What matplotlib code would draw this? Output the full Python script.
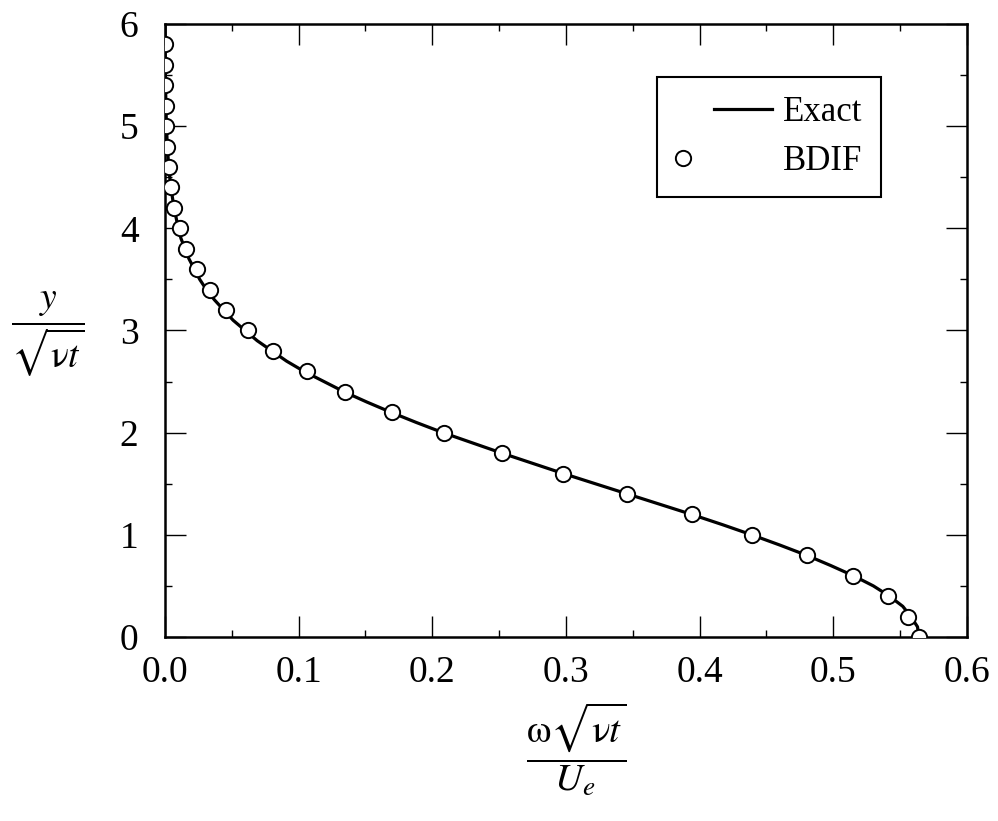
import numpy as np
import matplotlib
matplotlib.use("Agg")
import matplotlib.pyplot as plt
from matplotlib.legend_handler import HandlerLine2D

plt.rcParams['font.family'] = ['Liberation Serif', 'DejaVu Serif']
plt.rcParams['mathtext.fontset'] = 'stix'

# --- data ---
# exact solution curve (eta = y/sqrt(nu t), omega*sqrt(nu t)/U_e)
exact_eta = [0.0, 0.1, 0.2, 0.3, 0.4, 0.5, 0.6, 0.7, 0.8, 0.9, 1.0, 1.1, 1.2, 1.3,
             1.4, 1.5, 1.6, 1.7, 1.8, 1.9, 2.0, 2.1, 2.2, 2.3, 2.4, 2.5, 2.6, 2.7,
             2.8, 2.9, 3.0, 3.1, 3.2, 3.3, 3.4, 3.5, 3.6, 3.7, 3.8, 3.9, 4.0, 4.2,
             4.4, 4.6, 4.8, 5.0, 5.4, 5.8, 6.0]
exact_w = [0.564, 0.563, 0.558, 0.552, 0.542, 0.530, 0.515, 0.498, 0.480, 0.460,
           0.439, 0.417, 0.394, 0.370, 0.346, 0.322, 0.298, 0.275, 0.252, 0.230,
           0.208, 0.188, 0.169, 0.151, 0.134, 0.119, 0.104, 0.091, 0.080, 0.069,
           0.060, 0.051, 0.044, 0.037, 0.031, 0.026, 0.022, 0.018, 0.015, 0.012,
           0.010, 0.0068, 0.0044, 0.0028, 0.0018, 0.0011, 0.0004, 0.0001, 0.0001]

# BDIF numerical results
bdif_eta = [0.0, 0.2, 0.4, 0.6, 0.8, 1.0, 1.2, 1.4, 1.6, 1.8, 2.0, 2.2, 2.4, 2.6,
            2.8, 3.0, 3.2, 3.4, 3.6, 3.8, 4.0, 4.2, 4.4, 4.6, 4.8, 5.0, 5.2, 5.4,
            5.6, 5.8]
bdif_w = [0.564, 0.556, 0.541, 0.515, 0.480, 0.439, 0.394, 0.346, 0.298, 0.252,
          0.209, 0.170, 0.135, 0.106, 0.081, 0.062, 0.046, 0.034, 0.024, 0.016,
          0.011, 0.007, 0.0045, 0.0028, 0.0017, 0.0010, 0.0006, 0.0003, 0.0002,
          0.0001]


class PartHandler(HandlerLine2D):
    # draw the handle only over a fraction [f0, f1] of the handle box
    def __init__(self, f0, f1, **kw):
        super().__init__(**kw)
        self.f0, self.f1 = f0, f1

    def get_xdata(self, legend, xdescent, ydescent, width, height, fontsize):
        x0 = -xdescent
        xdata = np.array([x0 + self.f0 * width, x0 + self.f1 * width])
        return xdata, xdata


fig = plt.figure(figsize=(9.98, 8.21), dpi=100)
ax = fig.add_axes([0.1653, 0.2241, 0.8036, 0.7467])

exact_line, = ax.plot(exact_w, exact_eta, color='black', lw=2.3, label='Exact', zorder=2)
pts, = ax.plot(bdif_w, bdif_eta, linestyle='none', marker='o', ms=11,
               mfc='white', mec='black', mew=1.4, label='BDIF', zorder=3)

ax.set_xlim(0, 0.6)
ax.set_ylim(0, 6)
ax.set_xticks(np.arange(0, 0.61, 0.1))
ax.set_xticks(np.arange(0.05, 0.6, 0.1), minor=True)
ax.set_yticks(np.arange(0, 7, 1))
ax.set_yticks(np.arange(0.5, 6, 1), minor=True)
ax.set_xticklabels([f'{v:.1f}' for v in np.arange(0, 0.61, 0.1)])

ax.tick_params(which='both', direction='in', top=True, right=True, labelsize=27)
ax.tick_params(which='major', length=15, width=1.0)
ax.tick_params(which='minor', length=5, width=1.0)
ax.tick_params(axis='x', pad=13)
ax.tick_params(axis='y', pad=19)
for sp in ax.spines.values():
    sp.set_linewidth(1.8)

leg = ax.legend(loc='upper right', bbox_to_anchor=(0.893, 0.9135), borderaxespad=0,
                fontsize=25, handlelength=2.77, handletextpad=0.29, borderpad=0.55,
                labelspacing=0.45, fancybox=False, edgecolor='black', framealpha=1,
                handler_map={pts: PartHandler(0.0, 0.14, numpoints=1),
                             exact_line: PartHandler(0.39, 1.0, numpoints=1)})
leg.get_frame().set_linewidth(1.5)

fig.text(0.048, 0.593, r'$\dfrac{y}{\sqrt{\mathrm{ν}t}}$', fontsize=27,
         ha='center', va='center')
fig.text(0.577, 0.088, r'$\dfrac{\mathrm{ω}\sqrt{\mathrm{ν}t}}{U_e}$',
         fontsize=28, ha='center', va='center')

fig.savefig('out.png', dpi=100)
